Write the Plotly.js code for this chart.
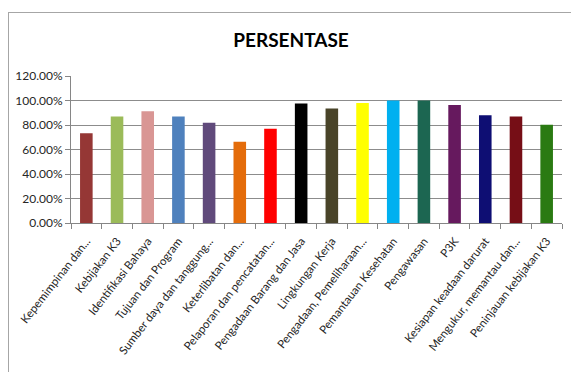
<!DOCTYPE html>
<html><head><meta charset="utf-8">
<script src="https://cdn.plot.ly/plotly-3.0.1.min.js"></script>
<style>
html,body{margin:0;padding:0;background:#fff;}
#wrap{position:relative;width:571px;height:372px;overflow:hidden;}
#frame{position:absolute;left:8px;top:12px;width:600px;height:400px;border-left:1px solid #a6a6a6;border-top:1px solid #a6a6a6;pointer-events:none;z-index:2;}
#chart{position:absolute;left:0;top:0;width:571px;height:372px;}
</style></head>
<body><div id="wrap"><div id="chart"></div><div id="frame"></div></div>
<script>
const categories = [
  "Kepemimpinan dan...","Kebijakan K3","Identifikasi Bahaya","Tujuan dan Program",
  "Sumber daya dan tanggung...","Keterlibatan dan...","Pelaporan dan pencatatan...",
  "Pengadaan Barang dan Jasa","Lingkungan Kerja","Pengadaan, Pemeliharaan...",
  "Pemantauan Kesehatan","Pengawasan","P3K","Kesiapan keadaan darurat",
  "Mengukur, memantau dan...","Peninjauan kebijakan K3"
];
const values = [0.733,0.870,0.913,0.870,0.818,0.663,0.769,0.976,0.935,0.980,1.000,1.000,0.964,0.880,0.870,0.802];
const colors = ["#953735","#9BBB59","#D99694","#4F81BD","#604A7B","#E46C0A","#FF0000","#000000",
  "#494429","#FFFF00","#00B0F0","#1C6651","#66195E","#0E0E73","#760E16","#2A7A12"];
const yTicks = [0,0.2,0.4,0.6,0.8,1.0,1.2];

const trace = {type:'bar', x:categories, y:values, marker:{color:colors, line:{width:0}}, hoverinfo:'x+y'};
const layout = {
  width:571, height:372,
  margin:{l:71, r:9, t:76, b:149, pad:0},
  paper_bgcolor:'#fff', plot_bgcolor:'#fff',
  bargap:0.59,
  showlegend:false,
  title:{text:'<b>PERSENTASE</b>', font:{family:'Lato, "Open Sans", sans-serif', size:19, color:'#000'},
    x:291/571, xref:'container', xanchor:'center', y:1-40/372, yref:'container', yanchor:'middle'},
  font:{family:'Lato, "Open Sans", sans-serif', size:12, color:'#262626'},
  xaxis:{type:'category', tickangle:-52, showline:true, linecolor:'#868686', linewidth:1,
    ticks:'outside', tickson:'boundaries', ticklen:5, tickcolor:'#868686', ticklabelstandoff:6,
    showgrid:false, tickfont:{size:11.5, color:'#262626'}, automargin:false},
  yaxis:{range:[0,1.2], tickvals:yTicks, tickformat:'.2%', showline:true, linecolor:'#868686',
    ticks:'outside', ticklen:5, tickcolor:'#868686', showgrid:true, gridcolor:'#8c8c8c', gridwidth:1,
    zeroline:false, tickfont:{size:12, color:'#262626'}, automargin:false}
};
Plotly.newPlot('chart',[trace],layout,{displayModeBar:false, staticPlot:true});
</script></body></html>
